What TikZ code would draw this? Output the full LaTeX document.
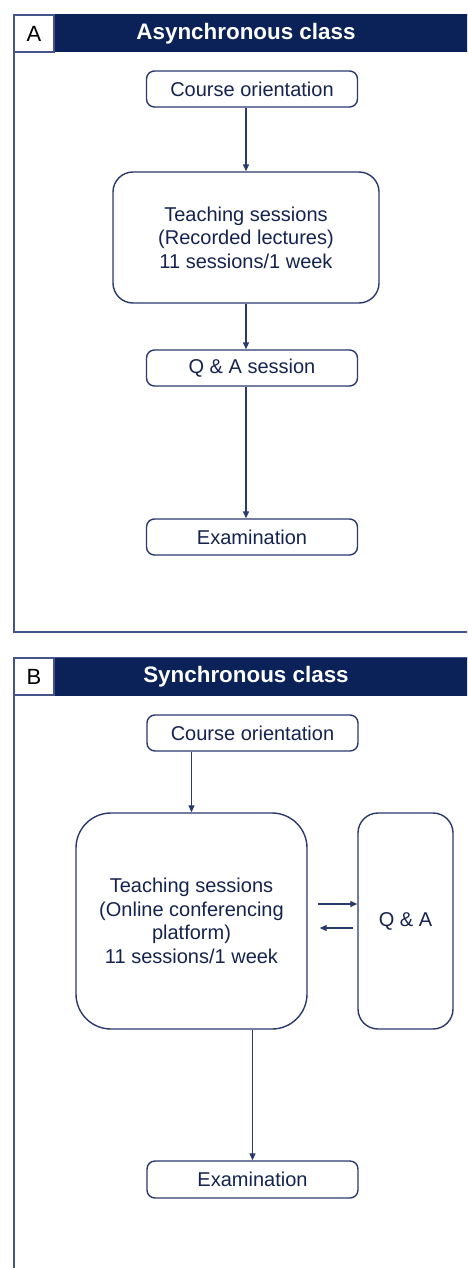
\documentclass[tikz,border=0pt]{standalone}
\usepackage{fontspec}
\setmainfont{Liberation Sans}
\usetikzlibrary{arrows.meta}
\definecolor{navy}{HTML}{0B2259}
\definecolor{edgeblue}{HTML}{2A3A6E}
\definecolor{textblue}{HTML}{15234F}
\definecolor{frameblue}{HTML}{45558C}
\tikzset{
  stepbox/.style={draw=edgeblue, line width=1.4pt, rounded corners=8pt, text=textblue,
    minimum width=211pt, minimum height=36pt, inner sep=0pt,
    font=\fontsize{20}{23.5}\selectfont, align=center},
  bigbox/.style={stepbox, rounded corners=#1},
  arr/.style={draw=edgeblue, line width=1.3pt, -{Triangle[length=7pt,width=6pt]}},
  panelframe/.style={draw=frameblue, line width=1.3pt},
  headbar/.style={fill=navy, draw=navy, line width=1pt},
  headtext/.style={text=white, font=\fontsize{22.4}{26}\selectfont\bfseries},
  tagtext/.style={text=black, font=\fontsize{22}{26}\selectfont}
}
\begin{document}
\begin{tikzpicture}[x=1pt, y=-1pt]
    \useasboundingbox (0,0) rectangle (467,1268);
    \clip (0,0) rectangle (467,1268);
    \fill[white] (0,0) rectangle (467,1268);

    % Panel A
    \draw[panelframe] (480,632) -- (14,632) -- (14,15) -- (480,15);
    \draw[headbar] (54,15) rectangle (480,52);
    \draw[panelframe, fill=white] (14,15) rectangle (54,52);
    \node[tagtext] (tagA) at (34,33.5) {A};
    \node[headtext] (headA) at (246,33.5) {Asynchronous class};

    \node[stepbox] (coA) at (252,89) {Course orientation};
    \node[bigbox=20pt, minimum width=266pt, minimum height=131pt] (teachA) at (246,237.5)
        {Teaching sessions\\(Recorded lectures)\\11 sessions/1 week};
    \node[stepbox] (qaA) at (252,368) {Q \& A session};
    \node[stepbox] (examA) at (252,537) {Examination};

    \draw[arr] (coA.south -| teachA) -- (teachA.north);
    \draw[arr] (teachA.south) -- (teachA.south |- qaA.north);
    \draw[arr] (qaA.south -| teachA) -- (examA.north -| teachA);

    % Panel B
    \draw[panelframe] (14,1280) -- (14,658) -- (480,658);
    \draw[headbar] (54,658) rectangle (480,695);
    \draw[panelframe, fill=white] (14,658) rectangle (54,695);
    \node[tagtext] (tagB) at (34,676.5) {B};
    \node[headtext] (headB) at (246,676.5) {Synchronous class};

    \node[stepbox] (coB) at (252.5,733) {Course orientation};
    \node[bigbox=35pt, minimum width=231pt, minimum height=216pt] (teachB) at (191.5,921)
        {Teaching sessions\\(Online conferencing\\platform)\\11 sessions/1 week};
    \node[bigbox=20pt, minimum width=95pt, minimum height=216pt] (qaB) at (405.5,921) {Q \& A};
    \node[stepbox, minimum height=37pt] (examB) at (252.5,1179.5) {Examination};

    \draw[arr] (coB.south -| teachB) -- (teachB.north);
    \draw[arr] (teachB.south -| examB) -- (examB.north);
    \draw[arr] ([xshift=10pt, yshift=17pt]teachB.east) -- ([yshift=17pt]teachB.east -| qaB.west);
    \draw[arr] ([xshift=-4pt, yshift=-7pt]teachB.east -| qaB.west) -- ([xshift=12pt, yshift=-7pt]teachB.east);
\end{tikzpicture}
\end{document}
